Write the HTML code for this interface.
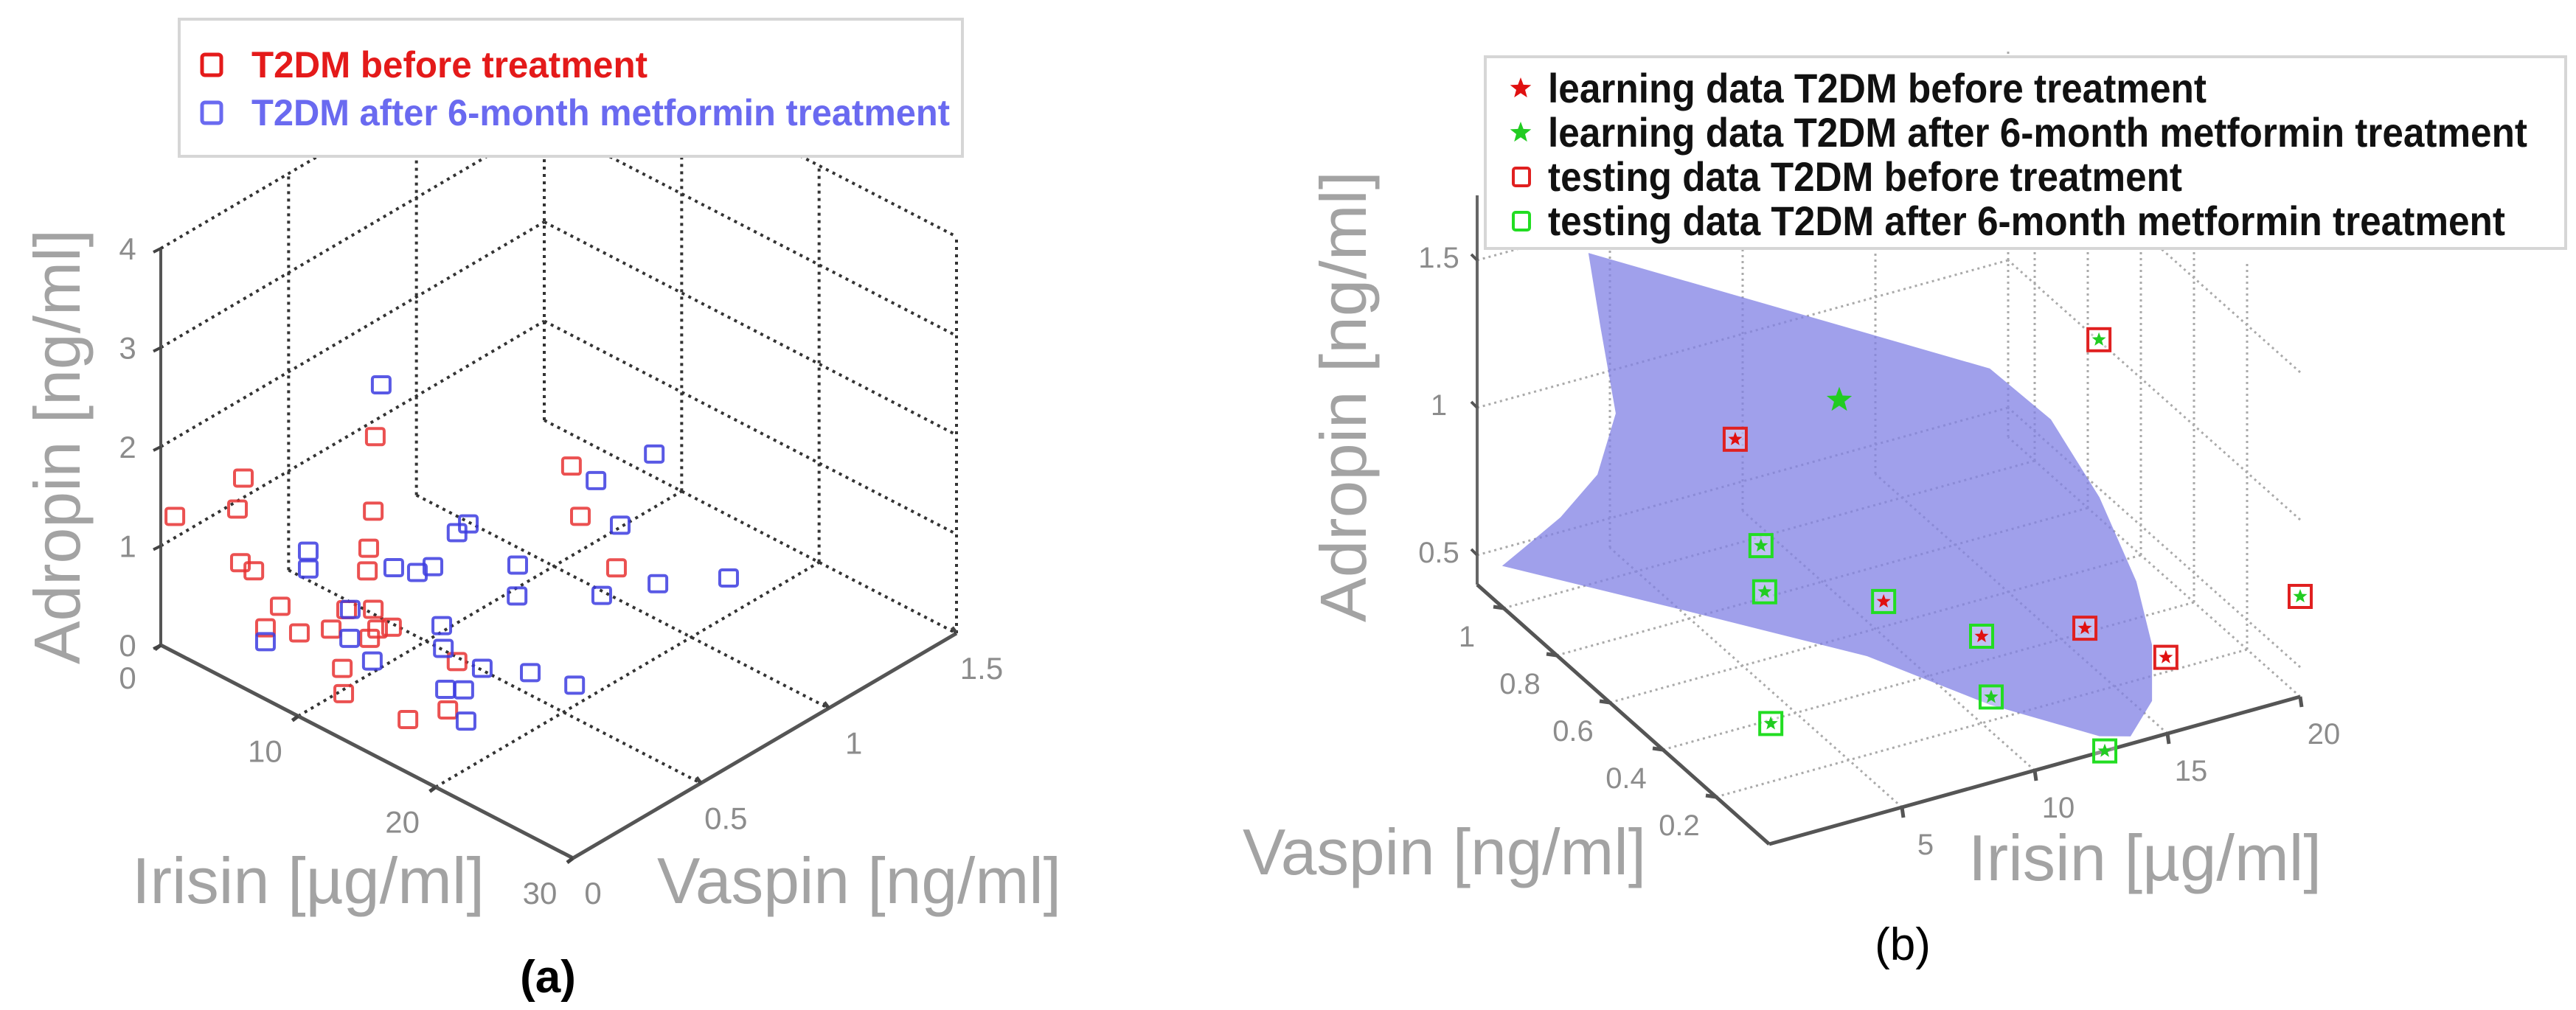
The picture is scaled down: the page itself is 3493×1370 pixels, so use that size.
<!DOCTYPE html>
<html><head><meta charset="utf-8"><style>
html,body{margin:0;padding:0;background:#fff;}
svg{display:block;}
text{font-family:"Liberation Sans Narrow","Liberation Sans",sans-serif;}
</style></head><body>
<svg id="fig" width="3493" height="1370" viewBox="0 0 3493 1370" xmlns="http://www.w3.org/2000/svg">
<g id="pa"></g>
<g id="pb"></g>
</svg>
<script>
// ---------- Panel (a) data ----------
const aRedIrisin=[0.69,4.02,3.74,3.86,4.52,10.44,10.31,10.09,10.03,5.79,5.07,6.72,8.29,10.31,9.04,10.53,11.21,10.12,8.82,10.28,14.47,15.38,14.38,19.97,20.36,22.15];
const aRedVaspin=[0.018,0.107,0.099,0.104,0.121,0.278,0.277,0.271,0.269,0.156,0.137,0.181,0.221,0.277,0.241,0.282,0.300,0.273,0.236,0.163,0.189,0.296,0.386,0.533,0.547,0.592];
const aRedAdropin=[1.32,1.81,1.49,0.95,0.89,2.43,1.67,1.29,1.06,0.57,0.33,0.33,0.42,0.68,0.64,0.49,0.53,0.38,0.04,0,0,0,0.28,2.43,1.93,1.47];
const aBlueIrisin=[10.72,7.16,7.16,11.30,12.46,13.20,14.96,14.38,17.36,17.28,21.16,23.95,22.29,21.43,24.14,27.61,5.07,9.23,9.15,10.28,13.64,13.70,15.60,17.94,20.09,13.93,14.74,16.82];
const aBlueVaspin=[0.286,0.192,0.192,0.304,0.334,0.355,0.399,0.386,0.463,0.465,0.565,0.643,0.599,0.573,0.647,0.737,0.137,0.245,0.247,0.275,0.366,0.369,0.419,0.481,0.539,0.365,0.393,0.290];
const aBlueAdropin=[2.96,1.17,0.99,1.13,1.12,1.20,1.69,1.58,1.35,1.03,2.32,2.67,1.90,1.17,1.37,1.54,0.19,0.65,0.35,0.16,0.62,0.39,0.25,0.28,0.22,0,0.01,0];
const aIrisinTicks=[0,10,20,30];
const aVaspinTicks=[0,0.5,1,1.5];
const aAdropinTicks=[0,1,2,3,4];
const aIrisinLabels=["0","10","20","30"];
const aVaspinLabels=["0","0.5","1","1.5"];
const aAdropinLabels=["0","1","2","3","4"];
const aLegendLabels=["T2DM before treatment","T2DM after 6-month metformin treatment"];

// ---------- Panel (b) data ----------
const bLearnRedIrisin=[3.72,9.31,14.89,16.94,11.0];
const bLearnRedVaspin=[0.5,0.5,0.3,0.2,0.3];
const bLearnRedAdropin=[1.28,0.59,0.52,0.45,0.59];
const bLearnGreenIrisin=[18.42,20,3.69,3.83,10.36,1.56,12.64,8.64];
const bLearnGreenVaspin=[0.6,0,0.4,0.4,0.2,0.15,0,0.6];
const bLearnGreenAdropin=[1.17,0.74,1.0,0.84,0.48,0.65,0.40,1.21];
const bTestRedIrisin=[3.72,14.89,16.94,18.42,20];
const bTestRedVaspin=[0.5,0.3,0.2,0.6,0];
const bTestRedAdropin=[1.28,0.52,0.45,1.17,0.74];
const bTestGreenIrisin=[9.31,3.69,3.83,10.36,1.56,12.64,11.0];
const bTestGreenVaspin=[0.5,0.4,0.4,0.2,0.15,0,0.3];
const bTestGreenAdropin=[0.59,1.0,0.84,0.48,0.65,0.40,0.59];
const bSurfIrisin=[-1.81,13.31,15.61,17.44,18.83,19.42,19.42,18.61,17.44,13.31,8.69,1.75,-5.06,-4.25,-2.86,-1.47,-0.78,-1.36];
const bSurfAdropin=[2.05,1.28,1.05,0.74,0.42,0.19,0.0,-0.10,-0.07,0.14,0.42,0.75,1.07,1.11,1.18,1.29,1.48,1.79];
const bSurfVaspin=0.5;
const bIrisinTicks=[5,10,15,20];
const bIrisinLabels=["5","10","15","20"];
const bVaspinTicks=[0.2,0.4,0.6,0.8,1];
const bVaspinLabels=["0.2","0.4","0.6","0.8","1"];
const bAdropinTicks=[0.5,1,1.5];
const bAdropinLabels=["0.5","1","1.5"];
const bLegendLabels=["learning data T2DM before treatment","learning data T2DM after 6-month metformin treatment","testing data T2DM before treatment","testing data T2DM after 6-month metformin treatment"];

const NS="http://www.w3.org/2000/svg";
function mk(parent,tag,attrs,txt){const e=document.createElementNS(NS,tag);for(const k in attrs)e.setAttribute(k,attrs[k]);if(txt!==undefined)e.textContent=txt;parent.appendChild(e);return e;}

function pA(i,v,a){return [218+559*i/30+520*v/1.5, 875+289*i/30-305*v/1.5-538*a/4];}
function pB(i,v,a){return [2399+36*i-360*v, 1145-10*i-320*v-400*(a-0.4)];}

const ga=document.getElementById('pa');
const gb=document.getElementById('pb');

function line(g,p,q,st,w,dash,name){const l=mk(g,'line',{x1:p[0],y1:p[1],x2:q[0],y2:q[1],stroke:st,'stroke-width':w});if(dash)l.setAttribute('stroke-dasharray',dash);


return l;}

// ---- Panel a grid ----
const gA='#333', dA='4 6', wA=4;
aVaspinTicks.slice(1).forEach(v=>line(ga,pA(0,v,0),pA(0,v,4),gA,wA,dA,'grid-line'));
aAdropinTicks.slice(1).forEach(a=>line(ga,pA(0,0,a),pA(0,1.5,a),gA,wA,dA,'grid-line'));
aIrisinTicks.forEach(i=>line(ga,pA(i,1.5,0),pA(i,1.5,4),gA,wA,dA,'grid-line'));
aAdropinTicks.forEach(a=>line(ga,pA(0,1.5,a),pA(30,1.5,a),gA,wA,dA,'grid-line'));
aIrisinTicks.slice(1,3).forEach(i=>line(ga,pA(i,0,0),pA(i,1.5,0),gA,wA,dA,'grid-line'));
aVaspinTicks.slice(1,3).forEach(v=>line(ga,pA(0,v,0),pA(30,v,0),gA,wA,dA,'grid-line'));
line(ga,pA(0,1.5,0),pA(0,1.5,4),gA,wA,dA,'grid-line');
line(ga,pA(0,0,0),pA(0,0,4),'#555',4,null,'adropin-axis');
line(ga,pA(0,0,0),pA(30,0,0),'#555',5,null,'irisin-axis');
line(ga,pA(30,0,0),pA(30,1.5,0),'#555',5,null,'vaspin-axis');
aAdropinTicks.forEach((a,k)=>{const p=pA(0,0,a);line(ga,p,[p[0]-10,p[1]+5],'#444',4,null,'adropin-tick');
const t=mk(ga,'text',{x:173,y:p[1]+15,'font-size':42,fill:'#8c8c8c','text-anchor':'middle'},aAdropinLabels[k]);

});
aIrisinTicks.forEach((i,k)=>{const p=pA(i,0,0);line(ga,p,[p[0]-8,p[1]+6],'#444',5,null,'irisin-tick');
const t=mk(ga,'text',{x:p[0]-45,y:p[1]+62,'font-size':42,fill:'#8c8c8c','text-anchor':'middle'},aIrisinLabels[k]);
if(k===0){t.setAttribute('x',173);t.setAttribute('y',934);}

});
aVaspinTicks.forEach((v,k)=>{const p=pA(30,v,0);if(k>0)line(ga,p,[p[0]-6,p[1]-8],'#444',5,null,'vaspin-tick');
const t=mk(ga,'text',{x:p[0]+34,y:p[1]+62,'font-size':42,fill:'#8c8c8c','text-anchor':'middle'},aVaspinLabels[k]);
if(k===0){t.setAttribute('x',p[0]+27);}

});

function sqA(p,col,name){const r=mk(ga,'rect',{x:p[0]-12,y:p[1]-11,width:24,height:22,rx:3,fill:'none',stroke:col,'stroke-width':4});

}
aRedIrisin.forEach((i,k)=>sqA(pA(i,aRedVaspin[k],aRedAdropin[k]),'rgba(232,50,50,0.85)','before-treatment-point'));
aBlueIrisin.forEach((i,k)=>sqA(pA(i,aBlueVaspin[k],aBlueAdropin[k]),'rgba(60,60,225,0.85)','after-treatment-point'));

const lgA=mk(ga,'g',{});


mk(lgA,'rect',{x:243,y:26,width:1062,height:186,fill:'#fff',stroke:'#d6d6d6','stroke-width':4});
const aLegCols=['#e41a1a','#6a6af0'];const aLegLen=[537,947];
aLegendLabels.forEach((s,k)=>{const y=88+k*65;
const r=mk(lgA,'rect',{x:274,y:y-14,width:26,height:28,rx:4,fill:'none',stroke:aLegCols[k],'stroke-width':5});


const t=mk(lgA,'text',{x:341,y:y+17,'font-size':50,'font-weight':'bold',fill:aLegCols[k],textLength:aLegLen[k],lengthAdjust:'spacingAndGlyphs'},s);

});

function title(g,x,y,s,len,name,rot){const t=mk(g,'text',{x:x,y:y,'font-size':88,fill:'#a3a3a3',textLength:len,lengthAdjust:'spacingAndGlyphs','font-family':'Liberation Sans, sans-serif'},s);
if(rot){t.setAttribute('transform','rotate(-90 '+x+' '+y+')');t.setAttribute('text-anchor','middle');}

return t;}
title(ga,108,606,'Adropin [ng/ml]',590,'adropin-axis-title',true);
title(ga,179,1225,'Irisin [µg/ml]',478,'irisin-axis-title');
title(ga,891,1225,'Vaspin [ng/ml]',548,'vaspin-axis-title');
const capA=mk(ga,'text',{x:743,y:1346,'font-size':62,'font-weight':'bold','text-anchor':'middle','font-family':'Liberation Serif, serif',fill:'#000'},'(a)');



// ---- Panel b ----
const gB='#aaa', dB='3 5';
bIrisinTicks.concat([0]).forEach(i=>line(gb,pB(i,1.1,0.4),pB(i,1.1,1.72),gB,3,dB,'grid-line'));
bAdropinTicks.forEach(a=>line(gb,pB(0,1.1,a),pB(20,1.1,a),gB,3,dB,'grid-line'));
[0.2,0.4,0.6,0.8,1.0].forEach(v=>line(gb,pB(20,v,0.4),pB(20,v,1.72),gB,3,dB,'grid-line'));
bAdropinTicks.forEach(a=>line(gb,pB(20,0,a),pB(20,1.1,a),gB,3,dB,'grid-line'));
bIrisinTicks.forEach(i=>line(gb,pB(i,0,0.4),pB(i,1.1,0.4),gB,3,dB,'grid-line'));
bVaspinTicks.forEach(v=>line(gb,pB(0,v,0.4),pB(20,v,0.4),gB,3,dB,'grid-line'));

const sp=bSurfIrisin.map((i,k)=>pB(i,bSurfVaspin,bSurfAdropin[k]));
const surf=mk(gb,'polygon',{points:sp.map(p=>p.join(',')).join(' '),fill:'rgb(128,128,228)','fill-opacity':0.75,stroke:'none'});



line(gb,pB(0,1.1,0.4),pB(0,1.1,1.72),'#666',4,null,'adropin-axis');
line(gb,pB(0,0,0.4),pB(0,1.1,0.4),'#555',5,null,'vaspin-axis');
line(gb,pB(0,0,0.4),pB(20,0,0.4),'#555',5,null,'irisin-axis');
bAdropinTicks.forEach((a,k)=>{const p=pB(0,1.1,a);line(gb,p,[p[0]-8,p[1]-8],'#555',4,null,'adropin-tick');
const t=mk(gb,'text',{x:p[0]-52,y:p[1]+10,'font-size':40,fill:'#8c8c8c','text-anchor':'middle'},bAdropinLabels[k]);

});
bVaspinTicks.forEach((v,k)=>{const p=pB(0,v,0.4);line(gb,p,[p[0]-14,p[1]-2],'#555',5,null,'vaspin-tick');
const t=mk(gb,'text',{x:p[0]-50,y:p[1]+52,'font-size':40,fill:'#8c8c8c','text-anchor':'middle'},bVaspinLabels[k]);

});
bIrisinTicks.forEach((i,k)=>{const p=pB(i,0,0.4);line(gb,p,[p[0]+2,p[1]+14],'#555',5,null,'irisin-tick');
const t=mk(gb,'text',{x:p[0]+32,y:p[1]+64,'font-size':40,fill:'#8c8c8c','text-anchor':'middle'},bIrisinLabels[k]);

});

function star(g,cx,cy,r,col,name){let pts=[];for(let k=0;k<10;k++){const ang=-Math.PI/2+k*Math.PI/5;const rr=k%2?r*0.42:r;pts.push((cx+rr*Math.cos(ang)).toFixed(1)+','+(cy+rr*Math.sin(ang)).toFixed(1));}
const s=mk(g,'polygon',{points:pts.join(' '),fill:col});

return s;}
function sqB(p,col,name){const r=mk(gb,'rect',{x:p[0]-15,y:p[1]-15,width:30,height:30,fill:'rgba(255,255,255,0.35)',stroke:col,'stroke-width':4});

}
bTestRedIrisin.forEach((i,k)=>sqB(pB(i,bTestRedVaspin[k],bTestRedAdropin[k]),'#e02020','testing-before-point'));
bTestGreenIrisin.forEach((i,k)=>sqB(pB(i,bTestGreenVaspin[k],bTestGreenAdropin[k]),'#22dd22','testing-after-point'));
bLearnRedIrisin.forEach((i,k)=>{const p=pB(i,bLearnRedVaspin[k],bLearnRedAdropin[k]);star(gb,p[0],p[1],10,'#e01010','learning-before-point');});
bLearnGreenIrisin.forEach((i,k)=>{const p=pB(i,bLearnGreenVaspin[k],bLearnGreenAdropin[k]);star(gb,p[0],p[1],k===7?18:10,'#22cc22','learning-after-point');});

const lgB=mk(gb,'g',{});


mk(lgB,'rect',{x:2014,y:77,width:1465,height:260,fill:'#fff',stroke:'#d6d6d6','stroke-width':4});
const bLegLen=[893,1328,860,1298];
bLegendLabels.forEach((s,k)=>{const y=120+k*60;
if(k<2){star(lgB,2062,y,15,k===0?'#e01010':'#22cc22','legend-marker');}
else{const r=mk(lgB,'rect',{x:2052,y:y-12,width:22,height:24,rx:3,fill:'none',stroke:k===2?'#e02020':'#22dd22','stroke-width':4});

}
const t=mk(lgB,'text',{x:2099,y:y+19,'font-size':56,'font-weight':'bold',fill:'#111',textLength:bLegLen[k],lengthAdjust:'spacingAndGlyphs'},s);

});

title(gb,1852,538,'Adropin [ng/ml]',612,'adropin-axis-title',true);
title(gb,1685,1186,'Vaspin [ng/ml]',547,'vaspin-axis-title');
title(gb,2669,1194,'Irisin [µg/ml]',479,'irisin-axis-title');
const capB=mk(gb,'text',{x:2580,y:1302,'font-size':62,'text-anchor':'middle','font-family':'Liberation Serif, serif',fill:'#000'},'(b)');


</script>
</body></html>
